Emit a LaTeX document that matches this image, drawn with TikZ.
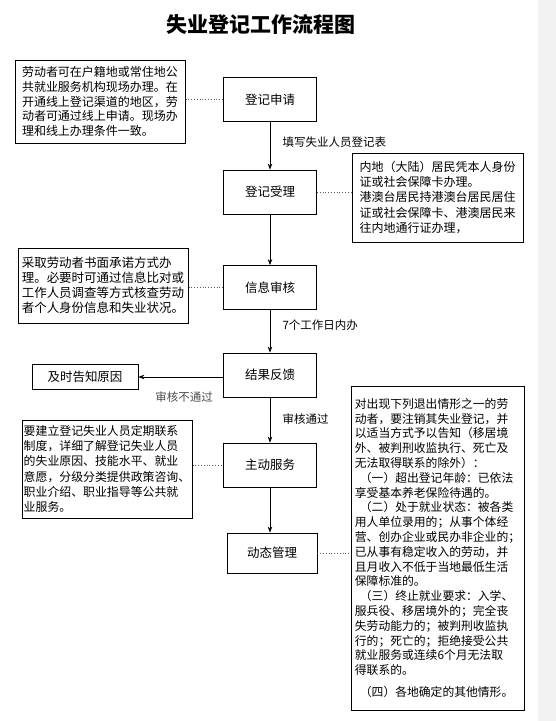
\documentclass[tikz,border=0pt]{standalone}
\usepackage{fontspec}
\setmainfont{Noto Sans CJK SC}
\usetikzlibrary{arrows.meta}

\begin{document}
\begin{tikzpicture}[x=1pt,y=-1pt,
  stepbox/.style={draw,line width=0.8pt,minimum width=93pt,minimum height=44pt,font=\fontsize{12.5}{15}\selectfont},
  notebox/.style={draw,line width=1pt,align=left,inner sep=1pt,font=\fontsize{12}{14.8}\selectfont},
  flow/.style={-{Stealth[length=6pt,width=4.5pt]},line width=0.7pt},
  link/.style={dotted,line width=0.8pt,black!65},
  lbl/.style={font=\fontsize{11.5}{14}\selectfont}]
\useasboundingbox (0,0) rectangle (556,721);
\fill[black!5] (538,0) rectangle (556,721);
\node (title) at (261,24) {\fontsize{21}{24}\selectfont\bfseries 失业登记工作流程图};
\node[stepbox] (apply) at (270,99.5) {登记申请};
\node[stepbox] (accept) at (270,192) {登记受理};
\node[stepbox] (verify) at (270,287.5) {信息审核};
\node[stepbox] (feedback) at (270,375) {结果反馈};
\node[stepbox] (service) at (270,465) {主动服务};
\node[stepbox,minimum width=90pt,minimum height=40pt] (manage) at (272,553) {动态管理};
\node[stepbox,minimum width=106pt,minimum height=25pt] (notify) at (85,377) {及时告知原因};
\node[notebox,minimum width=170pt,minimum height=83pt] (note1) at (100,101.5) {劳动者可在户籍地或常住地公\\共就业服务机构现场办理。在\\开通线上登记渠道的地区，劳\\动者可通过线上申请。现场办\\理和线上办理条件一致。};
\node[notebox,minimum width=171pt,minimum height=89pt,font=\fontsize{12}{15.3}\selectfont] (note2) at (437.5,197.5) {内地（大陆）居民凭本人身份\\证或社会保障卡办理。\\港澳台居民持港澳台居民居住\\证或社会保障卡、港澳居民来\\往内地通行证办理，};
\node[notebox,minimum width=170pt,minimum height=75pt,font=\fontsize{12.5}{15}\selectfont] (note3) at (103,285.5) {采取劳动者书面承诺方式办\\理。必要时可通过信息比对或\\工作人员调查等方式核查劳动\\者个人身份信息和失业状况。};
\node[notebox,minimum width=170pt,minimum height=98pt,font=\fontsize{11.9}{15.2}\selectfont] (note4) at (107,469) {要建立登记失业人员定期联系\\制度，详细了解登记失业人员\\的失业原因、技能水平、就业\\意愿，分级分类提供政策咨询、\\职业介绍、职业指导等公共就\\业服务。};
\node[notebox,minimum width=173pt,minimum height=324pt,font=\fontsize{11.8}{14.8}\selectfont] (note5) at (437.5,548) {对出现下列退出情形之一的劳\\动者，要注销其失业登记，并\\以适当方式予以告知（移居境\\外、被判刑收监执行、死亡及\\无法取得联系的除外）：\\\hspace*{5pt}（一）超出登记年龄：已依法\\享受基本养老保险待遇的。\\\hspace*{5pt}（二）处于就业状态：被各类\\用人单位录用的；从事个体经\\营、创办企业或民办非企业的；\\已从事有稳定收入的劳动，并\\且月收入不低于当地最低生活\\保障标准的。\\\hspace*{5pt}（三）终止就业要求：入学、\\服兵役、移居境外的；完全丧\\失劳动能力的；被判刑收监执\\行的；死亡的；拒绝接受公共\\就业服务或连续6个月无法取\\得联系的。\\[7pt]\hspace*{5pt}（四）各地确定的其他情形。};
\node[lbl,anchor=west] (fill) at (279,142) {填写失业人员登记表};
\node[lbl,anchor=west] (days) at (279,325) {7个工作日内办};
\node[lbl,anchor=west] (pass) at (279,419) {审核通过};
\node[lbl,black!70] (fail) at (184,397) {审核不通过};
\draw[flow] (apply) -- (accept);
\draw[flow] (accept) -- (verify);
\draw[flow] (verify) -- (feedback);
\draw[flow] (feedback) -- (service);
\draw[flow] (service.south) -- (service.south |- manage.north);
\draw[flow] (feedback.west |- notify) -- (notify.east);
\draw[link] (note1.east |- apply) -- (apply.west);
\draw[link] (accept.east) -- (note2.west |- accept);
\draw[link] (note3.east |- verify) -- (verify.west);
\draw[link] (note4.east |- service) -- (service.west);
\draw[link] (manage.east) -- (note5.west |- manage);
\end{tikzpicture}
\end{document}
